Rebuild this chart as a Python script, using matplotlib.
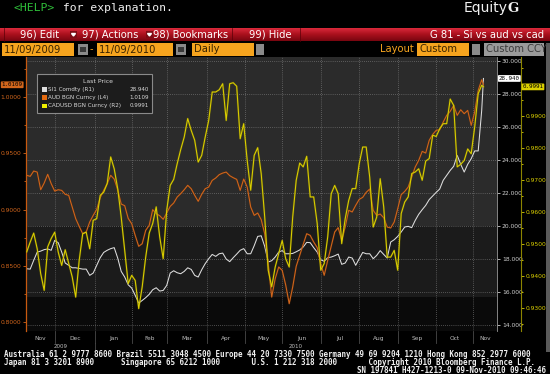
import numpy as np
import pandas as pd
import matplotlib
matplotlib.use("Agg")
import matplotlib.pyplot as plt
from matplotlib.patches import Rectangle, Polygon
from matplotlib.lines import Line2D
from matplotlib.ticker import FormatStrFormatter, MultipleLocator
import matplotlib.transforms as mtrans

W, H = 550, 374

days = pd.bdate_range("2009-11-09", "2010-11-09")
idx = list(range(0, len(days), 2)) + [len(days) - 1]

si1 = [17.41, 17.39, 17.92, 18.42, 18.48, 18.57, 18.61, 18.53, 19.13, 18.99,
       18.42, 17.76, 17.62, 17.47, 17.47, 17.43, 17.39, 17.39, 17.01, 17.15,
       17.62, 18.08, 18.40, 18.53, 18.63, 18.69, 18.06, 17.25, 16.91, 16.44,
       16.24, 15.80, 15.33, 15.49, 15.66, 15.86, 16.14, 16.26, 16.06, 16.10,
       16.40, 17.15, 17.29, 17.17, 17.11,
       17.25, 17.47, 17.37, 17.01, 16.91, 17.35, 17.72, 18.02, 18.28, 18.16,
       18.32, 18.36, 18.00, 17.84, 18.08, 18.30, 18.53, 18.63, 18.32, 18.32,
       18.81, 19.37, 19.41, 18.77, 17.82, 17.90, 18.12, 18.42, 18.51, 18.32,
       18.32, 18.34, 18.44, 18.55, 18.73, 19.01, 18.99, 18.69, 18.42, 17.96,
       17.86, 18.08, 18.12, 18.20, 18.30,
       17.68, 17.76, 18.12, 18.06, 17.62, 18.02, 18.40, 18.32, 18.32, 18.02,
       18.22, 18.51, 18.28, 18.06, 19.03, 19.17, 19.37, 19.64, 19.94, 19.98,
       19.90, 20.34, 20.71, 20.99, 21.25, 21.60, 21.82, 22.04, 22.24, 22.77,
       23.07, 23.37, 23.62, 24.28, 23.74, 23.27, 23.74, 24.08, 24.55, 24.55,
       27.01, 28.94]

aud = [0.9304, 0.9295, 0.9342, 0.9333, 0.9176, 0.9236, 0.9313, 0.9230, 0.9164, 0.9176,
       0.9170, 0.9135, 0.9126, 0.9022, 0.8919, 0.8850, 0.8785, 0.8800, 0.8889, 0.8948,
       0.9001, 0.9105, 0.9170, 0.9230, 0.9304, 0.9271, 0.9176, 0.9049, 0.9034, 0.8921,
       0.8874, 0.8770, 0.8673, 0.8696, 0.8815, 0.8859, 0.8999, 0.8963, 0.8945, 0.8913,
       0.8969, 0.9028, 0.9058, 0.9111, 0.9141,
       0.9176, 0.9215, 0.9185, 0.9126, 0.9073, 0.9135, 0.9185, 0.9200, 0.9259, 0.9280,
       0.9310, 0.9324, 0.9333, 0.9301, 0.9283, 0.9268, 0.9170, 0.9271, 0.9200, 0.9022,
       0.8948, 0.8969, 0.8910, 0.8785, 0.8519, 0.8222, 0.8385, 0.8489, 0.8459, 0.8329,
       0.8163, 0.8311, 0.8495, 0.8593, 0.8690, 0.8785, 0.8770, 0.8711, 0.8661, 0.8519,
       0.8415, 0.8548, 0.8673, 0.8800, 0.8839,
       0.8726, 0.8844, 0.8993, 0.8978, 0.9037, 0.9090, 0.9108, 0.9153, 0.9182, 0.8993,
       0.8948, 0.8960, 0.8927, 0.8844, 0.8836, 0.8889, 0.9007, 0.9132, 0.9161, 0.9200,
       0.9289, 0.9378, 0.9437, 0.9517, 0.9502, 0.9615, 0.9668, 0.9704, 0.9710, 0.9778,
       0.9837, 0.9873, 0.9926, 0.9837, 0.9887, 0.9852, 0.9881, 0.9748, 0.9867, 1.0059,
       1.0154, 1.0109]

cad = [0.9475, 0.9506, 0.9534, 0.9485, 0.9407, 0.9355, 0.9491, 0.9517, 0.9537, 0.9475,
       0.9433, 0.9482, 0.9439, 0.9397, 0.9334, 0.9449, 0.9532, 0.9537, 0.9485, 0.9574,
       0.9579, 0.9652, 0.9662, 0.9689, 0.9772, 0.9735, 0.9673, 0.9584, 0.9480, 0.9376,
       0.9402, 0.9386, 0.9298, 0.9366, 0.9459, 0.9534, 0.9564, 0.9616, 0.9522, 0.9454,
       0.9605, 0.9683, 0.9702, 0.9751, 0.9795,
       0.9834, 0.9892, 0.9855, 0.9824, 0.9756, 0.9777, 0.9834, 0.9886, 0.9975, 0.9975,
       0.9982, 1.0001, 0.9886, 1.0001, 1.0004, 0.9993, 0.9829, 0.9876, 0.9761, 0.9668,
       0.9777, 0.9801, 0.9720, 0.9584, 0.9418, 0.9366, 0.9428, 0.9470, 0.9511, 0.9454,
       0.9428, 0.9584, 0.9699, 0.9753, 0.9741, 0.9774, 0.9647, 0.9647, 0.9564, 0.9418,
       0.9439, 0.9522, 0.9657, 0.9683, 0.9657,
       0.9501, 0.9579, 0.9636, 0.9673, 0.9673, 0.9751, 0.9803, 0.9803, 0.9709, 0.9553,
       0.9584, 0.9704, 0.9616, 0.9459, 0.9459, 0.9480, 0.9418, 0.9595, 0.9631, 0.9647,
       0.9720, 0.9725, 0.9735, 0.9699, 0.9759, 0.9767, 0.9840, 0.9836, 0.9860, 0.9876,
       0.9876, 0.9953, 0.9933, 0.9741, 0.9749, 0.9761, 0.9797, 0.9782, 0.9866, 0.9970,
       0.9996, 0.9991]

legend_rows = ["SI1 Comdty (R1)", "AUD BGN Curncy (L4)", "CADUSD BGN Curncy (R2)"]
last_vals = ["28.940", "1.0109", "0.9991"]

WHITE, ORANGE, YELLOW = "#dedede", "#d2661c", "#dcd000"

fig = plt.figure(figsize=(5.5, 3.74), dpi=100, facecolor="black")


def rect(x0, y0, x1, y1, fc, ec="none", lw=0, z=1):
    fig.add_artist(Rectangle((x0 / W, 1 - y1 / H), (x1 - x0) / W, (y1 - y0) / H,
                             transform=fig.transFigure, facecolor=fc,
                             edgecolor=ec, lw=lw, zorder=z))


def txt(x, y, s, **kw):
    kw.setdefault("va", "center")
    fig.text(x / W, 1 - y / H, s, **kw)


def vline(x, y0, y1, color, lw=0.6):
    fig.add_artist(Line2D([x / W, x / W], [1 - y0 / H, 1 - y1 / H],
                          transform=fig.transFigure, color=color, lw=lw))


MONO = "DejaVu Sans Mono"

# ---- header
txt(13, 8, "<HELP>", color="#2fbf3a", family=MONO, fontsize=8.2)
txt(56, 8, " for explanation.", color="#f0f0f0", family=MONO, fontsize=8.2)
txt(508, 8, "Equity", color="#f0f0f0", fontsize=10, ha="right")
txt(508, 8.5, "G", color="#f0f0f0", fontsize=9.5, fontweight="bold", family="DejaVu Serif")

bar = fig.add_axes([0, 1 - 41 / H, 1, 13 / H])
grad = np.linspace(0, 1, 20)[:, None]
bar.imshow(grad, aspect="auto", cmap=matplotlib.colors.LinearSegmentedColormap.from_list(
    "r", ["#d8283a", "#a8101c", "#7a0610"]), extent=(0, 1, 0, 1))
bar.set_axis_off()
for xx in (4, 232, 300):
    vline(xx, 28, 41, "#5a0008", 0.5)
for x0 in (70, 146):
    rect(x0, 31, x0 + 7, 38, "#7c0c14")
    fig.add_artist(Polygon([((x0 + 1.5) / W, 1 - 33.5 / H), ((x0 + 5.5) / W, 1 - 33.5 / H),
                            ((x0 + 3.5) / W, 1 - 36 / H)], closed=True,
                           transform=fig.transFigure, color="white", zorder=2))
for xx, s in [(20, "96) Edit"), (82, "97) Actions"), (153, "98) Bookmarks"), (249, "99) Hide")]:
    txt(xx, 34.5, s, color="white", fontsize=7.2)
txt(544, 34.5, "G 81 - Si vs aud vs cad", color="white", fontsize=7.2, ha="right")

# ---- field row
FIELD = "#f6a41e"
rect(2, 43, 74, 56, FIELD)
txt(4, 49.5, "11/09/2009", color="#3a2400", fontsize=7.2)
rect(78, 44, 88, 55, "#8a8a8a")
rect(80, 47, 86, 52, "#3a3a3a")
txt(90, 49.5, "-", color=FIELD, fontsize=7)
rect(97, 43, 173, 56, FIELD)
txt(99, 49.5, "11/09/2010", color="#3a2400", fontsize=7.2)
rect(176, 44, 186, 55, "#8a8a8a")
rect(178, 47, 184, 52, "#3a3a3a")
rect(192, 43, 254, 56, FIELD)
txt(194, 49.5, "Daily", color="#3a2400", fontsize=7.2)
rect(256, 44, 264, 55, "#8a8a8a")
txt(380, 49.5, "Layout", color=FIELD, fontsize=7.2)
rect(417, 43, 469, 56, FIELD)
txt(419, 49.5, "Custom", color="#3a2400", fontsize=7.2)
rect(472, 44, 480, 55, "#8a8a8a")
rect(484, 43, 544, 56, "#9a9a9a")
txt(486, 49.5, "Custom CCY", color="#3c3c3c", fontsize=7.2)
rect(546, 43, 550, 352, "#5a5a5a")

# ---- plot
x = np.array(idx)
xlim = (-0.4, 268.74)
ax = fig.add_axes([26 / W, 1 - 331 / H, 471 / W, 274 / H])
ax_o = ax.twinx()
ax_y = ax.twinx()

ax.set_xlim(*xlim)
ax.set_ylim(13.64, 30.24)
ax.set_facecolor("#0a0a0a")
ax.axhspan(20.0, 30.24, color="#2b2b2b", lw=0, zorder=0)
ax.axhspan(15.7, 20.0, color="#1b1b1b", lw=0, zorder=0)

starts = [i for i in range(1, len(days)) if days[i].month != days[i - 1].month]
ax.set_xticks(starts)
ax.tick_params(axis="x", length=0, labelbottom=False)
ax.set_yticks(np.arange(14, 31, 2))
ax.yaxis.set_major_formatter(FormatStrFormatter("%.3f"))
ax.grid(True, color="#8a8a8a", ls=(0, (1, 2)), lw=0.5)
for s in ("top", "bottom", "left"):
    ax.spines[s].set_visible(False)
ax.spines["right"].set_color("#9a9a9a")
ax.spines["right"].set_linewidth(0.6)
ax.plot(x, si1, color=WHITE, lw=0.75, zorder=3)

ax_o.set_ylim(0.792, 1.0356)
ax_o.yaxis.tick_left()
ax_o.set_yticks(np.arange(0.80, 1.001, 0.05))
ax_o.yaxis.set_minor_locator(MultipleLocator(0.025))
ax_o.yaxis.set_major_formatter(FormatStrFormatter("%.4f"))
ax_o.tick_params(axis="y", which="both", colors=ORANGE, labelsize=4.3, length=2.5, width=0.6, pad=1)
ax_o.tick_params(axis="y", which="minor", length=1.5)
for s in ("top", "bottom", "right"):
    ax_o.spines[s].set_visible(False)
ax_o.spines["left"].set_color("#c85a10")
ax_o.spines["left"].set_linewidth(0.9)
ax_o.plot(x, aud, color="#6a3008", lw=1.4, alpha=0.45)
ax_o.plot(x, aud, color=ORANGE, lw=0.75)

ax_y.set_ylim(0.9228, 1.00844)
ax_y.spines["right"].set_position(("axes", 1 + 24 / 471))
ax_y.set_yticks(np.arange(0.93, 0.9951, 0.01))
ax_y.yaxis.set_minor_locator(MultipleLocator(0.005))
ax_y.yaxis.set_major_formatter(FormatStrFormatter("%.4f"))
ax_y.tick_params(axis="y", which="both", colors=YELLOW, labelsize=4.3, length=2.5, width=0.6, pad=1)
ax_y.tick_params(axis="y", which="minor", length=1.5)
for s in ("top", "bottom", "left"):
    ax_y.spines[s].set_visible(False)
ax_y.spines["right"].set_color("#8c8400")
ax_y.spines["right"].set_linewidth(0.8)
ax_y.plot(x, cad, color="#7a7200", lw=1.5, alpha=0.45)
ax_y.plot(x, cad, color=YELLOW, lw=0.75)

# twinx resets the first axis to the left; put the R1 scale back on the right
ax.yaxis.tick_right()
ax.tick_params(axis="y", colors="#cfcfcf", labelsize=4.3, length=2.5, width=0.6, pad=1)

# last price tags
tag = dict(fontsize=4.2, va="center", family=MONO)
ax.text(1.004, si1[-1], last_vals[0], transform=mtrans.blended_transform_factory(ax.transAxes, ax.transData),
        color="black", ha="left", bbox=dict(boxstyle="round,pad=0.15", fc="white", ec="none"), **tag)
ax_y.text(1.054, cad[-1], last_vals[2], transform=mtrans.blended_transform_factory(ax_y.transAxes, ax_y.transData),
          color="black", ha="left", bbox=dict(boxstyle="round,pad=0.15", fc=YELLOW, ec="none"), **tag)
ax_o.text(-0.007, aud[-1], last_vals[1], transform=mtrans.blended_transform_factory(ax_o.transAxes, ax_o.transData),
          color="black", ha="right", bbox=dict(boxstyle="round,pad=0.15", fc=ORANGE, ec="none"), **tag)


# month / year labels
def xpix(i):
    return 26 + 471 * (i - xlim[0]) / (xlim[1] - xlim[0])


bounds = [xlim[0]] + starts + [xlim[1]]
for k in range(len(bounds) - 1):
    c = (xpix(bounds[k]) + xpix(bounds[k + 1])) / 2
    d = days[0] if k == 0 else days[starts[k - 1]]
    txt(c, 338.5, d.strftime("%b"), color="#bdbdbd", fontsize=4.2, ha="center")
for s in starts:
    vline(xpix(s), 331, 343, "#4a4a4a", 0.6)
jan = [s for s in starts if days[s].month == 1][0]
vline(xpix(jan), 343, 350, "#4a4a4a", 0.6)
txt((26 + xpix(jan)) / 2, 346, "2009", color="#bdbdbd", fontsize=4, ha="center")
txt((xpix(jan) + 497) / 2, 346, "2010", color="#bdbdbd", fontsize=4, ha="center")

# legend box
rect(37, 74, 152, 113, "#1c1c1c", ec="#8a8a8a", lw=0.8, z=4)
txt(98, 81.5, "Last Price", color="#d8d8d8", fontsize=4.4, ha="center", zorder=5)
for k, (name, val, col) in enumerate(zip(legend_rows, last_vals, [WHITE, "#e46a10", "#f0f000"])):
    yy = 89.5 + 8.2 * k
    rect(42, yy - 2.4, 46.8, yy + 2.4, col, z=5)
    txt(48.5, yy, name, color="#d8d8d8", fontsize=4.1, zorder=5)
    txt(149, yy, val, color="#d8d8d8", fontsize=4.1, ha="right", zorder=5)

# ---- footer
foot = dict(color="#f0f0f0", family=MONO, fontsize=5.45, fontweight="bold")
txt(4, 354.5, "Australia 61 2 9777 8600 Brazil 5511 3048 4500 Europe 44 20 7330 7500 "
              "Germany 49 69 9204 1210 Hong Kong 852 2977 6000", **foot)
txt(4, 362.5, "Japan 81 3 3201 8900      Singapore 65 6212 1000       U.S. 1 212 318 2000"
              "       Copyright 2010 Bloomberg Finance L.P.", **foot)
txt(546, 370.2, "SN 197841 H427-1213-0 09-Nov-2010 09:46:46", ha="right", **foot)

fig.savefig("out.png", dpi=100, facecolor="black")
